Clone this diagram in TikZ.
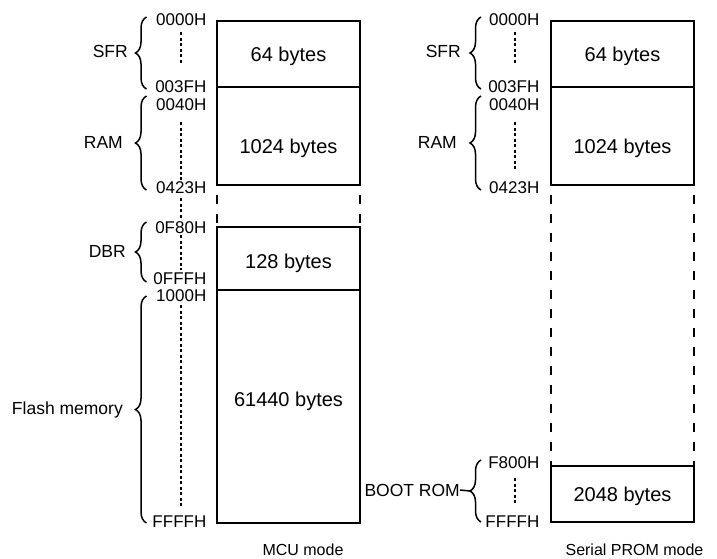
\documentclass[tikz,border=0pt]{standalone}
\usepackage{fontspec}
\setmainfont{Liberation Sans}
\usetikzlibrary{positioning,decorations.pathreplacing}

\begin{document}
\begin{tikzpicture}[x=1pt,y=-1pt,
  memblock/.style={draw,line width=1.6pt,minimum width=143pt,inner sep=0pt,outer sep=0pt,text depth=0pt,font=\fontsize{20}{24}\selectfont},
  addrlab/.style={anchor=base east,inner sep=0pt,font=\fontsize{17}{20}\selectfont},
  arealab/.style={anchor=east,inner sep=0pt,font=\fontsize{17.5}{21}\selectfont},
  modelab/.style={inner sep=0pt,font=\fontsize{16}{19}\selectfont},
  gapline/.style={line width=1.6pt,dash pattern=on 9pt off 10pt,dash phase=9pt},
  dotline/.style={line width=2pt,dash pattern=on 3pt off 2.5pt},
  membrace/.style={line width=1.5pt,decorate,decoration={brace,amplitude=11pt}}]
\useasboundingbox (0,0) rectangle (717,558);

% MCU mode
\node[memblock,minimum height=66pt] (sfrA) at (288.5,54) {64 bytes};
\node[memblock,minimum height=98pt,text height=34pt,below=0pt of sfrA] (ramA) {1024 bytes};
\node[memblock,minimum height=63pt,text height=19pt,below=42pt of ramA] (dbrA) {128 bytes};
\node[memblock,minimum height=233pt,text depth=14pt,below=0pt of dbrA] (flashA) {61440 bytes};
\draw[gapline] (ramA.south west) -- (dbrA.north west);
\draw[gapline] (ramA.south east) -- (dbrA.north east);

\node[addrlab] (a0000A) at (206.5,25) {0000H};
\node[addrlab] (a003FA) at (206.5,92) {003FH};
\node[addrlab] (a0040A) at (206.5,110) {0040H};
\node[addrlab] (a0423A) at (206.5,193) {0423H};
\node[addrlab] (a0F80A) at (206.5,233) {0F80H};
\node[addrlab] (a0FFFA) at (206.5,284) {0FFFH};
\node[addrlab] (a1000A) at (206.5,301) {1000H};
\node[addrlab] (aFFFFA) at (206.5,527) {FFFFH};
\draw[dotline] (180.5,32) -- (180.5,63);
\draw[dotline] (180.5,122) -- (180.5,180);
\draw[dotline] (180.5,198) -- (180.5,218);
\draw[dotline] (180.5,235) -- (180.5,270);
\draw[dotline] (180.5,305) -- (180.5,507);

\draw[membrace] (146.5,89) -- (146.5,17);
\draw[membrace] (146.5,190) -- (146.5,96);
\draw[membrace] (146.5,282) -- (146.5,222);
\draw[membrace] (146.5,523) -- (146.5,296);
\node[arealab] (sfrlabA) at (128,51) {SFR};
\node[arealab] (ramlabA) at (123,142) {RAM};
\node[arealab] (dbrlabA) at (126,251) {DBR};
\node[arealab] (flashlab) at (123,410) {Flash memory};
\node[modelab] (mcumode) at (303,550) {MCU mode};

% Serial PROM mode
\node[memblock,minimum height=66pt] (sfrB) at (622.5,54) {64 bytes};
\node[memblock,minimum height=98pt,text height=34pt,below=0pt of sfrB] (ramB) {1024 bytes};
\node[memblock,minimum height=56pt,below=281pt of ramB] (bootB) {2048 bytes};
\draw[gapline] (ramB.south west) -- (bootB.north west);
\draw[gapline] (ramB.south east) -- (bootB.north east);

\node[addrlab] (a0000B) at (539.5,25) {0000H};
\node[addrlab] (a003FB) at (539.5,92) {003FH};
\node[addrlab] (a0040B) at (539.5,110) {0040H};
\node[addrlab] (a0423B) at (539.5,193) {0423H};
\node[addrlab] (aF800B) at (539.5,468) {F800H};
\node[addrlab] (aFFFFB) at (539.5,527) {FFFFH};
\draw[dotline] (515,32) -- (515,63);
\draw[dotline] (515,122) -- (515,170);
\draw[dotline] (515,478) -- (515,503);

\draw[membrace] (481,89) -- (481,17);
\draw[membrace] (481,190) -- (481,96);
\draw[membrace] (481,522) -- (481,460);
\node[arealab] (sfrlabB) at (461,51) {SFR};
\node[arealab] (ramlabB) at (457,142) {RAM};
\node[arealab] (bootlab) at (460,490) {BOOT ROM};
\coordinate (boottip) at (470,491);
\draw[line width=1.5pt] (bootlab.east) -- (boottip);
\node[modelab] (prommode) at (634.5,550) {Serial PROM mode};
\end{tikzpicture}
\end{document}
